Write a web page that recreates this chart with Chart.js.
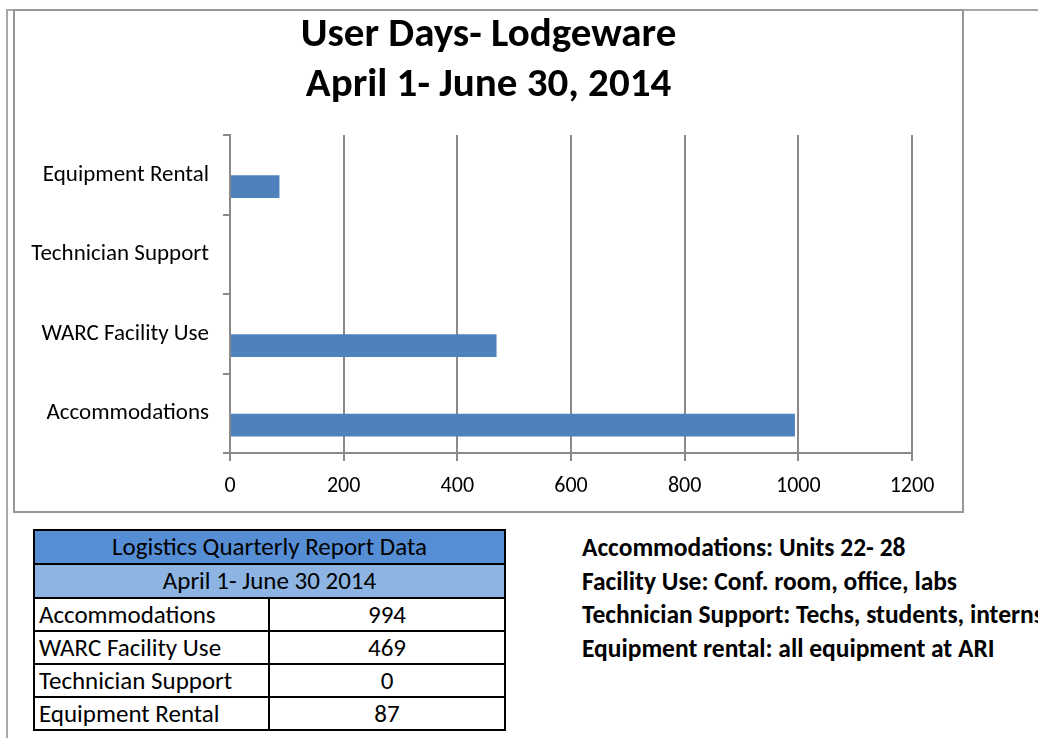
<!DOCTYPE html>
<html lang="en">
<head>
  <meta charset="UTF-8">
  <title>User Days - Lodgeware</title>
  <script src="https://cdn.jsdelivr.net/npm/chart.js"></script>
  <style>
    body {
      margin: 0;
      width: 1038px;
      height: 738px;
      overflow: hidden;
      position: relative;
      background: #fff;
      font-family: Carlito, Lato, sans-serif;
      color: #000;
    }
    .page-top {
      position: absolute;
      left: 7px;
      right: 0;
      top: 9px;
      border-top: 2px solid #a8a8a8;
    }
    .page-left {
      position: absolute;
      left: 6px;
      top: 9px;
      bottom: 0;
      border-left: 2px solid #a8a8a8;
    }
    .chart-box {
      position: absolute;
      left: 13px;
      top: 9px;
      width: 951px;
      height: 504px;
      box-sizing: border-box;
      border: 2px solid #979797;
      background: #fff;
    }
    .report {
      position: absolute;
      left: 33px;
      top: 529px;
      width: 473px;
      border-collapse: collapse;
      font-size: 25px;
    }
    .report td {
      border: 2px solid #000;
      padding: 0 4px;
      line-height: 28px;
      white-space: nowrap;
    }
    .report .head1 td { background: #558ed5; text-align: center; height: 32px; }
    .report .head2 td { background: #8db4e2; text-align: center; height: 32px; }
    .report .num { text-align: center; }
    .notes {
      position: absolute;
      left: 582px;
      top: 531px;
      font-size: 25.5px;
      font-weight: bold;
      line-height: 33.5px;
      white-space: nowrap;
    }
  </style>
</head>
<body>
  <div class="page-top"></div>
  <div class="page-left"></div>
  <div class="chart-box">
    <canvas id="userDaysChart"></canvas>
  </div>

  <table class="report" id="reportTable"></table>

  <div class="notes">
    <div>Accommodations: Units 22- 28</div>
    <div>Facility Use: Conf. room, office, labs</div>
    <div>Technician Support: Techs, students, interns</div>
    <div>Equipment rental: all equipment at ARI</div>
  </div>

  <script>
    // categories top to bottom as in the chart
    var categories = ['Equipment Rental', 'Technician Support', 'WARC Facility Use', 'Accommodations'];
    var userDays = [87, 0, 469, 994];
    // empty first series (Excel sheet had a blank series, bars sit low in each band)
    var blankSeries = [null, null, null, null];
    var xTicks = [0, 200, 400, 600, 800, 1000, 1200];

    var titleLines = ['User Days- Lodgeware', 'April 1- June 30, 2014'];
    var tableTitle = 'Logistics Quarterly Report Data';
    var tablePeriod = 'April 1- June 30 2014';

    // table rows are listed bottom-up compared to the chart
    var table = document.getElementById('reportTable');
    var html = '<tr class="head1"><td colspan="2">' + tableTitle + '</td></tr>' +
               '<tr class="head2"><td colspan="2">' + tablePeriod + '</td></tr>';
    for (var i = categories.length - 1; i >= 0; i--) {
      html += '<tr><td style="width:225px;height:31px">' + categories[i] + '</td>' +
              '<td class="num" style="height:31px">' + userDays[i] + '</td></tr>';
    }
    table.innerHTML = html;

    Chart.defaults.font.family = 'Carlito, Lato, sans-serif';
    Chart.defaults.color = '#000';

    var gridGray = '#8a8a8a';

    var ctx = document.getElementById('userDaysChart').getContext('2d');
    var userDaysChart = new Chart(ctx, {
      type: 'bar',
      data: {
        labels: categories,
        datasets: [{
          label: '',
          data: blankSeries,
          backgroundColor: '#4f81bd'
        }, {
          label: 'User Days',
          data: userDays,
          backgroundColor: '#4f81bd'
        }]
      },
      options: {
        indexAxis: 'y',
        responsive: true,
        maintainAspectRatio: false,
        animation: false,
        categoryPercentage: 0.6,
        barPercentage: 0.96,
        plugins: {
          legend: { display: false },
          tooltip: { enabled: false },
          title: {
            display: true,
            text: titleLines,
            color: '#000',
            font: { size: 41, weight: 'bold', lineHeight: '50px' },
            padding: { top: 0, bottom: 24 }
          }
        },
        scales: {
          x: {
            min: 0,
            max: 1200,
            afterBuildTicks: function (scale) {
              scale.ticks = xTicks.map(function (v) { return { value: v }; });
            },
            afterFit: function (scale) { scale.height = 58; },
            grid: { color: gridGray, lineWidth: 2, tickLength: 8 },
            border: { color: gridGray, width: 2 },
            ticks: {
              padding: 12,
              font: { size: 22 },
              color: '#000',
              callback: function (value) { return String(value); }
            }
          },
          y: {
            afterFit: function (scale) { scale.width = 215; },
            grid: { offset: true, drawOnChartArea: false, color: gridGray, lineWidth: 2, tickLength: 7 },
            border: { color: gridGray, width: 2 },
            ticks: { padding: 14, font: { size: 23 }, color: '#000' }
          },
          // blank strip on the right so the plot stops at 1200 while the title stays centred in the box
          yRightSpace: {
            position: 'right',
            grid: { display: false },
            border: { display: false },
            ticks: { display: false },
            afterFit: function (scale) { scale.width = 50; }
          }
        }
      }
    });
  </script>
</body>
</html>
